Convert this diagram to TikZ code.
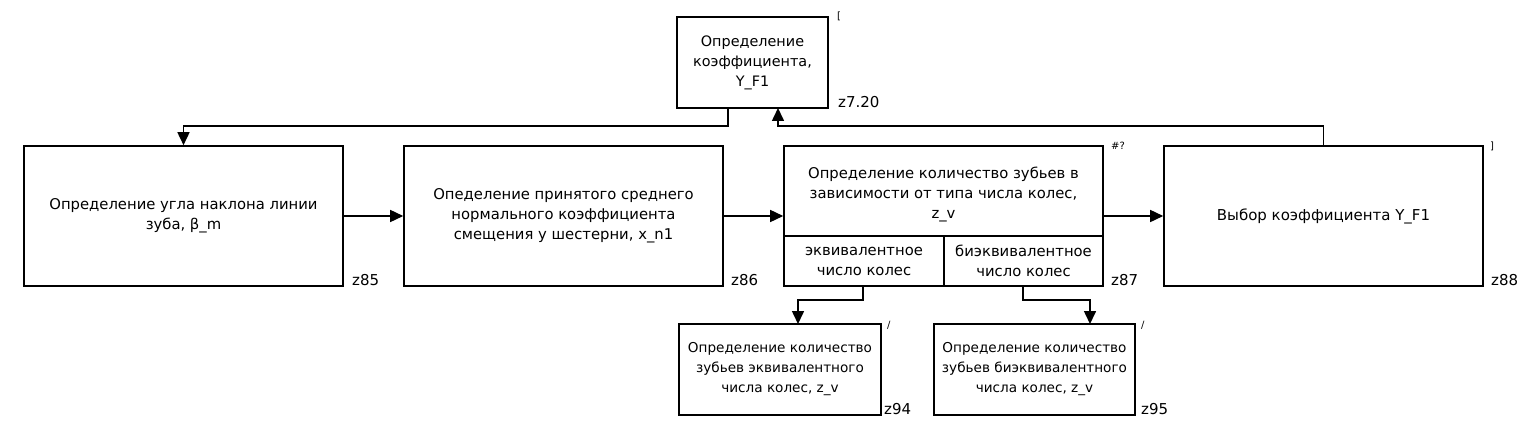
\documentclass[tikz,border=0pt]{standalone}
\usepackage{fontspec}
\setmainfont{DejaVu Sans}
\usetikzlibrary{arrows.meta}
\begin{document}
\begin{tikzpicture}[x=1pt,y=-1pt,
  blk/.style={draw, line width=1.6pt, inner sep=0pt, align=center,
    font=\fontsize{14.8}{20}\selectfont},
  cell/.style={inner sep=0pt, align=center, font=\fontsize{14.8}{20}\selectfont},
  lbl/.style={inner sep=0pt, font=\fontsize{15}{16}\selectfont},
  tag/.style={inner sep=0pt, font=\fontsize{10}{12}\selectfont},
  arr/.style={line width=1.6pt, -{Triangle[length=13pt,width=12pt]}},
  ln/.style={line width=1.6pt}]
\useasboundingbox (0,0) rectangle (1537,433);
\fill[white] (0,0) rectangle (1537,433);

% boxes
\node[blk, minimum width=151pt, minimum height=91pt, font=\fontsize{14.4}{20}\selectfont] (top) at (752.5,62.5)
  {Определение\\коэффициента,\\Y\_F1};
\node[blk, minimum width=319pt, minimum height=140pt] (b1) at (183.5,216)
  {Определение угла наклона линии\\зуба, β\_m};
\node[blk, minimum width=319pt, minimum height=140pt] (b2) at (563.5,216)
  {Опеделение принятого среднего\\нормального коэффициента\\смещения у шестерни, x\_n1};
\node[blk, minimum width=319pt, minimum height=140pt] (b3) at (943.5,216) {};
\node[blk, minimum width=319pt, minimum height=140pt, font=\fontsize{15}{20}\selectfont] (b4) at (1323.5,216)
  {Выбор коэффициента Y\_F1};
\node[blk, minimum width=202pt, minimum height=91pt, font=\fontsize{13.6}{20}\selectfont] (b94) at (780,369.5)
  {Определение количество\\зубьев эквивалентного\\числа колес, z\_v};
\node[blk, minimum width=201pt, minimum height=91pt, font=\fontsize{13.6}{20}\selectfont] (b95) at (1034.5,369.5)
  {Определение количество\\зубьев биэквивалентного\\числа колес, z\_v};

% inner structure of b3
\draw[ln] (784,236) -- (1103,236);
\draw[ln] (944,236) -- (944,286);
\node[cell] (b3t) at (943.5,194) {Определение количество зубьев в\\зависимости от типа числа колес,\\z\_v};
\node[cell] (ec) at (864,261) {эквивалентное\\число колес};
\node[cell] (bec) at (1023.5,261) {биэквивалентное\\число колес};
\coordinate (ecs) at (863,286);
\coordinate (becs) at (1023,286);

% connector points
\coordinate (tout) at (728,108);
\coordinate (tin) at (778,108);
\coordinate (a94) at (798,324);
\coordinate (a95) at (1090,324);

% connectors
\draw[arr] (tout) -- (728,126) -| (b1.north);
\draw[arr] (b4.north) -- (1323.5,126) -| (tin);
\draw[arr] (b1.east) -- (b2.west);
\draw[arr] (b2.east) -- (b3.west);
\draw[arr] (b3.east) -- (b4.west);
\draw[arr] (ecs) -- (863,300) -| (a94);
\draw[arr] (becs) -- (1023,300) -| (a95);

% labels
\node[lbl, anchor=south west] (ltop) at (838,108) {z7.20};
\node[lbl, anchor=south west] (l85) at (352,286) {z85};
\node[lbl, anchor=south west] (l86) at (731,286) {z86};
\node[lbl, anchor=south west] (l87) at (1111,286) {z87};
\node[lbl, anchor=south west] (l88) at (1491,286) {z88};
\node[lbl, anchor=south west] (l94) at (884,415) {z94};
\node[lbl, anchor=south west] (l95) at (1141,415) {z95};

\node[tag, anchor=north west] (t1) at (837,12) {[};
\node[tag, anchor=north west] (t2) at (1111,142) {\#?};
\node[tag, anchor=north west] (t3) at (1490,142) {]};
\node[tag, anchor=north west] (t4) at (887,321) {/};
\node[tag, anchor=north west] (t5) at (1141,321) {/};
\end{tikzpicture}
\end{document}
